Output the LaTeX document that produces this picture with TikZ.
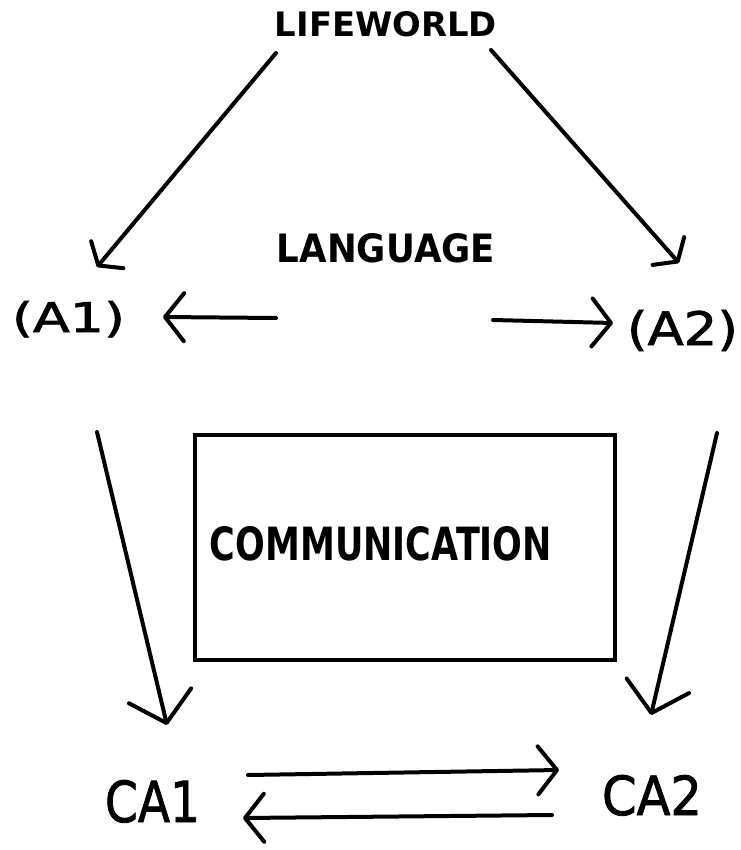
\documentclass[tikz,border=0pt]{standalone}
\usepackage{graphicx}
\usepackage{fontspec}
\setmainfont{DejaVu Sans}
\newfontfamily\medfont[FakeBold=1.5]{DejaVu Sans}
\usetikzlibrary{arrows.meta}
\newcommand{\lbl}[3]{\resizebox{#1pt}{#2pt}{#3}}
\begin{document}
\begin{tikzpicture}[x=1pt,y=-1pt,
  lab/.style={inner sep=0pt, outer sep=0pt, anchor=base, text=black},
  conn/.style={draw=black, line width=4pt, line cap=round, line join=round},
  tipS/.style={conn, -{Straight Barb[length=14pt,width=42pt,round]}},
  tipM/.style={conn, -{Straight Barb[length=19pt,width=48pt,round]}},
  tipL/.style={conn, -{Straight Barb[length=28pt,width=64pt,round]}},
  boxst/.style={draw=black, line width=4pt, inner sep=0pt, minimum width=420pt, minimum height=225pt}]
\fill[white] (0,0) rectangle (740,850);
\useasboundingbox (0,0) rectangle (740,850);

% labels
\node[lab] (lifeworld) at (386,37) {\lbl{222}{25}{\bfseries LIFEWORLD}};
\node[lab] (language) at (386,262) {\lbl{218}{29}{\bfseries LANGUAGE}};
\node[lab] (A1) at (68.5,332) {\lbl{113}{31}{\medfont (A1)}};
\node[lab] (A2) at (682.5,345) {\lbl{111}{35}{\medfont (A2)}};
\node[boxst] (box) at (405,547.5) {};
\node[lab] (comm) at (381,560) {\lbl{342}{34}{\bfseries COMMUNICATION}};
\node[lab] (CA1) at (152.5,822) {\lbl{95}{42}{\medfont CA1}};
\node[lab] (CA2) at (652,815) {\lbl{100}{40}{\medfont CA2}};

% connector end points
\coordinate (c1s) at (276,53);  \coordinate (c1e) at (97,267);
\coordinate (c2s) at (491,50);  \coordinate (c2e) at (679,263);
\coordinate (c3s) at (276,318); \coordinate (c3e) at (163,317);
\coordinate (c4s) at (493,320); \coordinate (c4e) at (613,323);
\coordinate (c5s) at (97,432);  \coordinate (c5e) at (167,725);
\coordinate (c6s) at (717,433); \coordinate (c6e) at (651,715);
\coordinate (c7s) at (248,775); \coordinate (c7e) at (559,770);
\coordinate (c8s) at (552,815); \coordinate (c8e) at (243,818);

% connectors
\draw[tipS] (c1s) -- (c1e);
\draw[tipS] (c2s) -- (c2e);
\draw[tipM] (c3s) -- (c3e);
\draw[tipM] (c4s) -- (c4e);
\draw[tipL] (c5s) -- (c5e);
\draw[tipL] (c6s) -- (c6e);
\draw[tipM] (c7s) -- (c7e);
\draw[tipM] (c8s) -- (c8e);
\end{tikzpicture}
\end{document}
